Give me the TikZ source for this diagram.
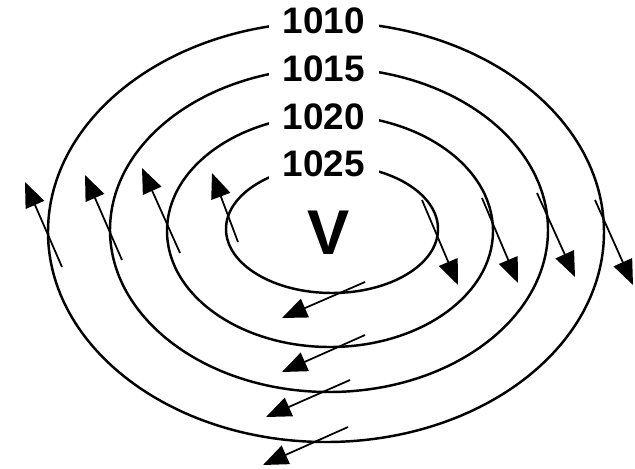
\documentclass[tikz,border=0pt]{standalone}
\usepackage{fontspec}
\setmainfont{Liberation Sans}
\usetikzlibrary{arrows.meta}
\tikzset{
  isobar/.style={line width=1.4pt},
  plabel/.style={fill=white,inner xsep=0.27cm,inner ysep=1pt,font=\fontsize{21}{24}\selectfont\bfseries},
  wind/.style={line width=1pt,-{Triangle[length=0.5cm,width=0.4cm]}}
}
\begin{document}
\begin{tikzpicture}[x=0.02cm,y=-0.02cm]
\useasboundingbox (0,0) rectangle (635,468);
\draw[isobar] (326,232) ellipse [x radius=278, y radius=210];
\draw[isobar] (329,230) ellipse [x radius=219, y radius=162];
\draw[isobar] (330,231) ellipse [x radius=163, y radius=116];
\draw[isobar] (332,229) ellipse [x radius=106, y radius=64];
\node[plabel] (p1010) at (324,21) {1010};
\node[plabel] (p1015) at (324,69) {1015};
\node[plabel] (p1020) at (324,117) {1020};
\node[plabel] (p1025) at (324,164) {1025};
\node[font=\fontsize{36}{40}\selectfont\bfseries] (high) at (329,233) {V};
% wind on the west side
\coordinate (w1) at (62,267);  \coordinate (w1t) at (25,182);
\coordinate (w2) at (122,260); \coordinate (w2t) at (85,175);
\coordinate (w3) at (180,253); \coordinate (w3t) at (142,168);
\coordinate (w4) at (238,242); \coordinate (w4t) at (212,173);
\draw[wind] (w1) -- (w1t);
\draw[wind] (w2) -- (w2t);
\draw[wind] (w3) -- (w3t);
\draw[wind] (w4) -- (w4t);
% wind on the east side
\coordinate (e1) at (422,200); \coordinate (e1t) at (458,285);
\coordinate (e2) at (482,198); \coordinate (e2t) at (518,283);
\coordinate (e3) at (537,193); \coordinate (e3t) at (575,277);
\coordinate (e4) at (595,200); \coordinate (e4t) at (633,285);
\draw[wind] (e1) -- (e1t);
\draw[wind] (e2) -- (e2t);
\draw[wind] (e3) -- (e3t);
\draw[wind] (e4) -- (e4t);
% wind on the south side
\coordinate (s1) at (365,282); \coordinate (s1t) at (282,318);
\coordinate (s2) at (365,335); \coordinate (s2t) at (282,372);
\coordinate (s3) at (350,380); \coordinate (s3t) at (266,417);
\coordinate (s4) at (348,427); \coordinate (s4t) at (263,465);
\draw[wind] (s1) -- (s1t);
\draw[wind] (s2) -- (s2t);
\draw[wind] (s3) -- (s3t);
\draw[wind] (s4) -- (s4t);
\end{tikzpicture}
\end{document}
